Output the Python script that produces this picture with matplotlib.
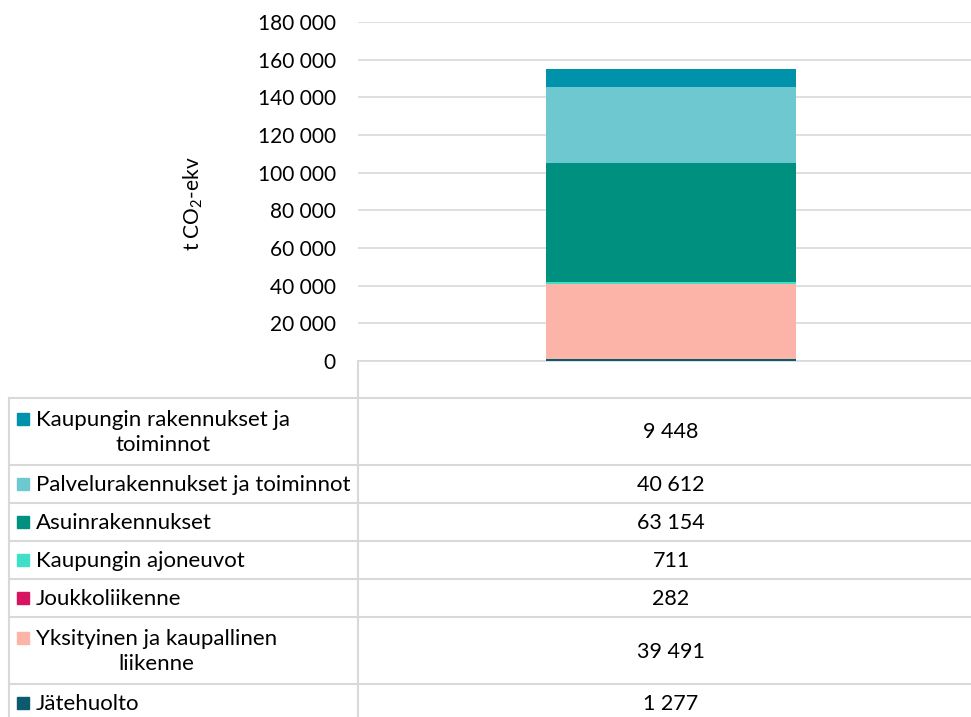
import numpy as np
import matplotlib.pyplot as plt
from matplotlib.lines import Line2D
from matplotlib.patches import Rectangle
from matplotlib.ticker import FuncFormatter

plt.rcParams['font.family'] = ['Lato', 'DejaVu Sans']
plt.rcParams['mathtext.fontset'] = 'custom'
plt.rcParams['mathtext.rm'] = 'Lato'

# sektorit pinon alhaalta ylös
sektorit = ["Jätehuolto", "Yksityinen ja kaupallinen\nliikenne", "Joukkoliikenne",
            "Kaupungin ajoneuvot", "Asuinrakennukset", "Palvelurakennukset ja toiminnot",
            "Kaupungin rakennukset ja\ntoiminnot"]
paastot = [1277, 39491, 282, 711, 63154, 40612, 9448]
varit = ["#0b5a6e", "#fcb4a8", "#d81460", "#40e0c8", "#00907f", "#6ec8d0", "#0091ab"]
y_ticks = np.arange(0, 180001, 20000)


def fmt(v, pos=None):
    return f"{int(v):,}".replace(",", " ")


W, H = 971, 717
fig = plt.figure(figsize=(W / 100, H / 100), dpi=100)

# kuvaaja
ax_l, ax_r, ax_t, ax_b = 358, 984, 22, 361
ax = fig.add_axes([ax_l / W, 1 - ax_b / H, (ax_r - ax_l) / W, (ax_b - ax_t) / H])
pohja = np.concatenate([[0], np.cumsum(paastot)[:-1]])
for v, b, c in zip(paastot, pohja, varit):
    ax.bar(0, v, bottom=b, width=0.4, color=c, zorder=3)
ax.set_xlim(-0.5, 0.5)
ax.set_ylim(0, 180000)
ax.set_yticks(y_ticks)
ax.yaxis.set_major_formatter(FuncFormatter(fmt))
ax.tick_params(axis='y', length=0, pad=16, labelsize=15)
ax.set_xticks([])
ax.grid(axis='y', color='#d9d9d9', lw=1.2, zorder=0)
for s in ['top', 'right', 'left']:
    ax.spines[s].set_visible(False)
ax.spines['bottom'].set_color('#d9d9d9')
ax.spines['bottom'].set_linewidth(1.2)
ax.set_ylabel(r"t CO$_\mathregular{2}$-ekv", fontsize=15)
ax.yaxis.set_label_coords((205 - ax_l) / (ax_r - ax_l), (ax_b - 204) / (ax_b - ax_t))

# taulukko
ov = fig.add_axes([0, 0, 1, 1], zorder=5)
ov.set_xlim(0, W)
ov.set_ylim(H, 0)
ov.axis('off')
ov.patch.set_alpha(0)

grid_c = '#d9d9d9'
x_left, x_div = 9, 358
x_val = (ax_l + ax_r) / 2
rivit = list(zip(sektorit, paastot, varit))[::-1]
y = ax_b + 37
ov.add_line(Line2D([x_div, x_div], [ax_b, H + 10], color=grid_c, lw=1.5))
ov.add_line(Line2D([x_left, W + 10], [y, y], color=grid_c, lw=1.5))
for nimi, v, c in rivit:
    n = nimi.count("\n") + 1
    h = 38 + 29 * (n - 1)
    yc = y + h / 2
    ov.text(36, yc + 1, nimi, ha='left', va='center', multialignment='center',
            fontsize=16, linespacing=1.35)
    ysq = yc - 13 * (n - 1) if n > 1 else yc
    ov.add_patch(Rectangle((17, ysq - 6), 12, 12, color=c))
    ov.text(x_val, yc + 1, fmt(v), ha='center', va='center', fontsize=15.5)
    y += h
    ov.add_line(Line2D([x_left, W + 10], [y, y], color=grid_c, lw=1.5))
ov.add_line(Line2D([x_left, x_left], [ax_b + 37, H + 10], color=grid_c, lw=1.5))

fig.savefig("out.png", dpi=100)
